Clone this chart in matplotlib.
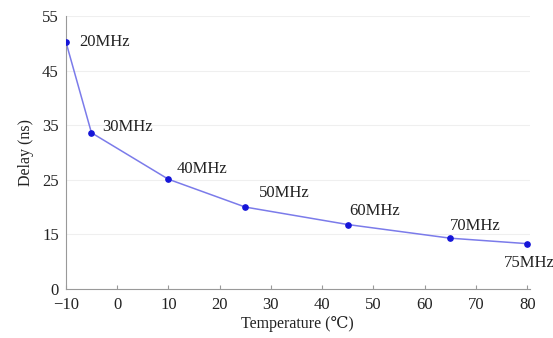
import numpy as np
import matplotlib
matplotlib.use("Agg")
import matplotlib.pyplot as plt

# data
temperature = [-10, -5, 10, 25, 45, 65, 80]
delay = [50.3, 33.6, 25.1, 20.0, 16.8, 14.3, 13.3]
freq_labels = ["20MHz", "30MHz", "40MHz", "50MHz", "60MHz", "70MHz", "75MHz"]
# label offsets in points (dx, dy)
label_offsets = [(10, 0), (8, 4), (6, 7), (10, 10), (1, 10), (0, 9), (-17, -14)]

y_ticks = [5, 15, 25, 35, 45, 55]
y_ticklabels = ["0", "15", "25", "35", "45", "55"]
x_ticks = np.arange(-10, 81, 10)

plt.rcParams["font.family"] = ["Liberation Serif", "DejaVu Serif"]

fig = plt.figure(figsize=(5.53, 3.38), dpi=100)
ax = fig.add_axes([0.119, 0.145, 0.839, 0.808])

ax.plot(temperature, delay, color="#7b7bea", lw=1.1, zorder=2)
ax.plot(temperature, delay, "o", color="#1515d8", ms=3.8, zorder=3)

for x, y, lab, (dx, dy) in zip(temperature, delay, freq_labels, label_offsets):
    ax.annotate(lab, (x, y), xytext=(dx, dy), textcoords="offset points",
                fontsize=12, va="center", ha="left", color="#222222")

ax.set_xlim(-10, 80.5)
ax.set_ylim(5, 55)
ax.set_xticks(x_ticks)
ax.set_xticklabels([str(t).replace("-", "\u2212") for t in x_ticks])
ax.set_yticks(y_ticks)
ax.set_yticklabels(y_ticklabels)
ax.grid(axis="y", color="#efefef", lw=0.8)
ax.set_axisbelow(True)

for s in ["top", "right"]:
    ax.spines[s].set_visible(False)
for s in ["left", "bottom"]:
    ax.spines[s].set_color("#999999")
    ax.spines[s].set_linewidth(0.8)

ax.tick_params(axis="both", direction="in", length=3, color="#999999",
               labelsize=12, labelcolor="#222222")
ax.tick_params(axis="x", pad=6)
ax.tick_params(axis="y", length=0, pad=5)

ax.set_xlabel("Temperature (\u2103)", fontsize=11.5, color="#222222", labelpad=2)
ax.set_ylabel("Delay (ns)", fontsize=11.5, color="#222222", labelpad=6)

fig.savefig("out.png", dpi=100)
